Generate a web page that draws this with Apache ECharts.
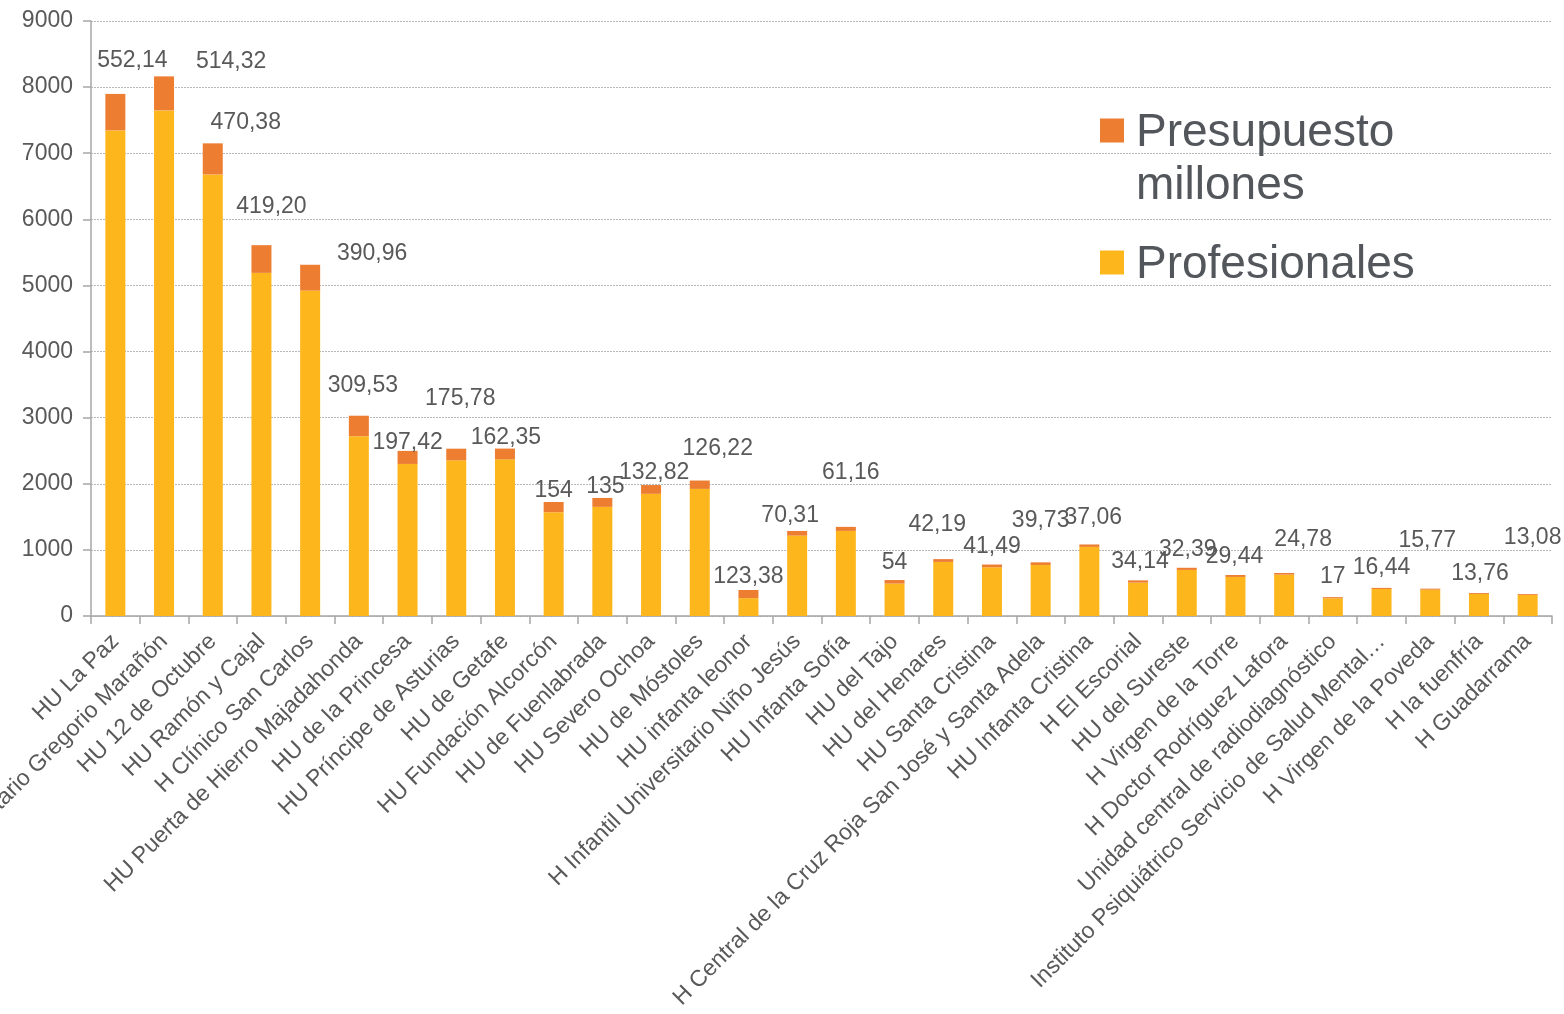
<!DOCTYPE html>
<html>
<head>
<meta charset="utf-8">
<script src="https://cdn.jsdelivr.net/npm/echarts@6/dist/echarts.min.js"></script>
<style>
html,body{margin:0;padding:0;background:#fff;}
#c{width:1564px;height:1014px;}
</style>
</head>
<body>
<div id="c"></div>
<script>
const categories = [
  'HU La Paz',
  'H General Universitario Gregorio Marañón',
  'HU 12 de Octubre',
  'HU Ramón y Cajal',
  'H Clínico San Carlos',
  'HU Puerta de Hierro Majadahonda',
  'HU de la Princesa',
  'HU Príncipe de Asturias',
  'HU de Getafe',
  'HU Fundación Alcorcón',
  'HU de Fuenlabrada',
  'HU Severo Ochoa',
  'HU de Móstoles',
  'HU infanta leonor',
  'H Infantil Universitario Niño Jesús',
  'HU Infanta Sofía',
  'HU del Tajo',
  'HU del Henares',
  'HU Santa Cristina',
  'H Central de la Cruz Roja San José y Santa Adela',
  'HU Infanta Cristina',
  'H El Escorial',
  'HU del Sureste',
  'H Virgen de la Torre',
  'H Doctor Rodríguez Lafora',
  'Unidad central de radiodiagnóstico',
  'Instituto Psiquiátrico Servicio de Salud Mental…',
  'H Virgen de la Poveda',
  'H la fuenfría',
  'H Guadarrama'
];
const profesionales = [7345, 7648, 6679, 5190, 4922, 2720, 2300, 2355, 2370, 1570,
  1651, 1848, 1923, 270, 1216, 1287, 490, 818, 737, 772,
  1045, 505, 697, 591, 626, 268, 409, 398, 333, 318];
const presupuesto = [552.14, 514.32, 470.38, 419.20, 390.96, 309.53, 197.42, 175.78, 162.35, 154,
  135, 132.82, 126.22, 123.38, 70.31, 61.16, 54, 42.19, 41.49, 39.73,
  37.06, 34.14, 32.39, 29.44, 24.78, 17, 16.44, 15.77, 13.76, 13.08];
const yTicks = {min: 0, max: 9000, interval: 1000};
// label offsets [dx, dy] (px) of the budget labels, as placed in the original
const labelOffsets = [[17,-17],[67,2],[33,-4],[10,-22],[62,5],[4,-14],[0,8],[4,-34],[1,6],[0,5],
  [3,5],[3,4],[18,-15],[0,3],[-7,1],[5,-38],[0,-1],[-6,-18],[0,-1],[0,-25],
  [4,-10],[2,-2],[1,-2],[-1,-2],[19,-17],[0,-4],[0,-4],[-3,-31],[1,-3],[5,-40]];

const FONT = '"Liberation Sans", Arial, sans-serif';
const TXT = '#595959';
function fmt(v){
  return Number.isInteger(v) ? String(v) : v.toFixed(2).replace('.', ',');
}

const chart = echarts.init(document.getElementById('c'), null, {renderer: 'canvas'});
chart.setOption({
  animation: false,
  textStyle: {fontFamily: FONT},
  grid: {left: 91, right: 12, top: 21, bottom: 398, containLabel: false, outerBoundsMode: 'none'},
  legend: {
    orient: 'vertical',
    left: 1100,
    top: 48,
    padding: 0,
    itemWidth: 24,
    itemHeight: 24,
    itemGap: 20,
    icon: 'rect',
    data: ['Presupuesto millones', 'Profesionales'],
    formatter: function(n){ return n === 'Presupuesto millones' ? 'Presupuesto\nmillones' : n; },
    textStyle: {fontSize: 46, color: '#53575c', fontFamily: FONT, lineHeight: 53, rich: {}}
  },
  xAxis: {
    type: 'category',
    data: categories,
    axisLine: {lineStyle: {color: '#a6a6a6', width: 1.5}},
    axisTick: {show: true, length: 8, lineStyle: {color: '#a6a6a6', width: 1.5}},
    axisLabel: {interval: 0, rotate: 45, fontSize: 23, color: TXT, margin: 22, fontFamily: FONT, hideOverlap: false}
  },
  yAxis: {
    type: 'value',
    min: yTicks.min, max: yTicks.max, interval: yTicks.interval,
    axisLine: {show: true, lineStyle: {color: '#a6a6a6', width: 1.5}},
    axisTick: {show: true, length: 8, lineStyle: {color: '#a6a6a6', width: 1.5}},
    axisLabel: {fontSize: 23, color: TXT, margin: 18, fontFamily: FONT,
      formatter: function(v){ return String(v); }},
    splitLine: {show: true, lineStyle: {color: '#b8b8b8', type: [2, 1], width: 1}}
  },
  series: [
    {
      name: 'Profesionales',
      type: 'bar',
      stack: 'total',
      barWidth: 20,
      itemStyle: {color: '#FDB71C'},
      data: profesionales
    },
    {
      name: 'Presupuesto millones',
      type: 'bar',
      stack: 'total',
      barWidth: 20,
      itemStyle: {color: '#ED7D31'},
      data: presupuesto.map(function(v, i){
        return {value: v, label: {offset: labelOffsets[i]}};
      }),
      label: {
        show: true,
        position: 'top',
        fontSize: 23,
        color: TXT,
        fontFamily: FONT,
        formatter: function(p){ return fmt(p.value); }
      }
    }
  ]
});
// legend: put each square beside the first line of its text
chart.setOption({
  legend: {
    data: [
      {name: 'Presupuesto millones', textStyle: {padding: [59, 0, 0, 7]}},
      {name: 'Profesionales', textStyle: {padding: [6, 0, 0, 7]}}
    ]
  }
});
</script>
</body>
</html>
